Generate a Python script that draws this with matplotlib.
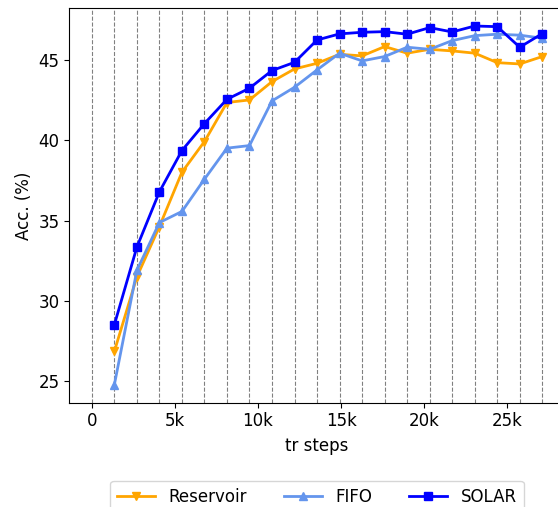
import matplotlib
matplotlib.use("Agg")
import matplotlib.pyplot as plt
from matplotlib.ticker import FuncFormatter

# training steps at which accuracy was measured
steps = [1355, 2710, 4065, 5420, 6775, 8130, 9485, 10840, 12195, 13550,
         14905, 16260, 17615, 18970, 20325, 21680, 23035, 24390, 25745, 27100]
grid_steps = [0] + steps

reservoir = [26.86, 31.5, 34.63, 38.01, 39.92, 42.35, 42.51, 43.65, 44.44, 44.79,
             45.35, 45.25, 45.83, 45.42, 45.66, 45.56, 45.42, 44.83, 44.75, 45.21]
fifo = [24.79, 31.9, 34.88, 35.57, 37.58, 39.51, 39.67, 42.45, 43.30, 44.38,
        45.42, 44.94, 45.21, 45.79, 45.66, 46.20, 46.51, 46.60, 46.54, 46.35]
solar = [28.52, 33.35, 36.79, 39.36, 41.04, 42.55, 43.24, 44.34, 44.85, 46.24,
         46.62, 46.72, 46.76, 46.60, 47.01, 46.74, 47.11, 47.07, 45.79, 46.64]

xticks = [0, 5000, 10000, 15000, 20000, 25000]

plt.rcParams["font.size"] = 12

fig = plt.figure(figsize=(5.58, 5.07), dpi=100)
ax = fig.add_axes([0.1242, 0.2057, 0.888, 0.7785])

for s in grid_steps:
    ax.axvline(s, color="gray", linestyle="--", linewidth=0.8, zorder=0)

ax.plot(steps, reservoir, color="orange", marker="v", linewidth=2, markersize=6, label="Reservoir")
ax.plot(steps, fifo, color="cornflowerblue", marker="^", linewidth=2, markersize=6, label="FIFO")
ax.plot(steps, solar, color="blue", marker="s", linewidth=2, markersize=6, label="SOLAR")

ax.set_xlim(-1355, 28455)
ax.set_ylim(23.67, 48.23)
ax.set_xticks(xticks)
ax.xaxis.set_major_formatter(FuncFormatter(lambda v, p: "0" if v == 0 else f"{int(v / 1000)}k"))
ax.set_yticks([25, 30, 35, 40, 45])
ax.set_xlabel("tr steps", labelpad=5)
ax.set_ylabel("Acc. (%)")

# legend sits below the axes, partly past the bottom edge as in the reference
ax.legend(loc="upper center", bbox_to_anchor=(0.568, 0.0513), bbox_transform=fig.transFigure,
          borderaxespad=0, ncol=3, frameon=True, handlelength=2.3, columnspacing=2.2)

fig.savefig("out.png", dpi=100)
